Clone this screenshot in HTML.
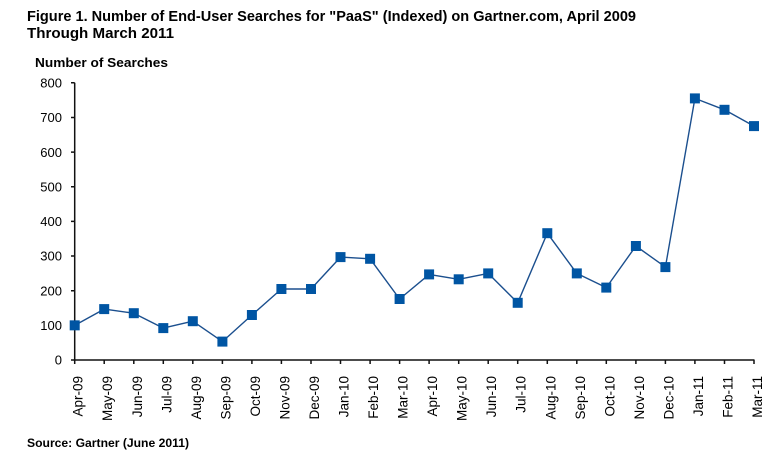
<!DOCTYPE html>
<html><head><meta charset="utf-8"><style>
html,body{margin:0;padding:0;background:#fff;}
svg{display:block;}
text{font-family:"Liberation Sans",Arial,sans-serif;fill:#000;}
.b{font-weight:bold;}
.yl{font-size:13px;text-anchor:end;}
.xl{font-size:13.5px;text-anchor:end;}
</style></head><body>
<svg width="782" height="454" viewBox="0 0 782 454" xmlns="http://www.w3.org/2000/svg">
<rect width="782" height="454" fill="#fff"/>
<text class="b" x="27" y="21" font-size="15" textLength="609" lengthAdjust="spacingAndGlyphs">Figure 1. Number of End-User Searches for "PaaS" (Indexed) on Gartner.com, April 2009</text>
<text class="b" x="27" y="38" font-size="15" textLength="147" lengthAdjust="spacingAndGlyphs">Through March 2011</text>
<text class="b" x="35" y="67" font-size="13" textLength="133" lengthAdjust="spacingAndGlyphs">Number of Searches</text>
<text class="b" x="27" y="447" font-size="12" textLength="162" lengthAdjust="spacingAndGlyphs">Source: Gartner (June 2011)</text>

<!-- y labels -->
<text class="yl" x="62" y="364.7">0</text>
<text class="yl" x="62" y="330">100</text>
<text class="yl" x="62" y="295.4">200</text>
<text class="yl" x="62" y="260.7">300</text>
<text class="yl" x="62" y="226.1">400</text>
<text class="yl" x="62" y="191.4">500</text>
<text class="yl" x="62" y="156.8">600</text>
<text class="yl" x="62" y="122.1">700</text>
<text class="yl" x="62" y="87.5">800</text>

<!-- axes -->
<g stroke="#111" stroke-width="1.5" fill="none">
<line x1="74.7" y1="82.8" x2="74.7" y2="360.7"/>
<line x1="74" y1="360" x2="754.5" y2="360"/>
<path d="M71 360H74.7M71 325.35H74.7M71 290.7H74.7M71 256.05H74.7M71 221.4H74.7M71 186.75H74.7M71 152.1H74.7M71 117.45H74.7M71 82.8H74.7"/>
<path d="M74.7 360V364M104.2 360V364M133.8 360V364M163.3 360V364M192.8 360V364M222.4 360V364M251.9 360V364M281.4 360V364M311 360V364M340.5 360V364M370.1 360V364M399.6 360V364M429.1 360V364M458.7 360V364M488.2 360V364M517.7 360V364M547.3 360V364M576.8 360V364M606.3 360V364M635.9 360V364M665.4 360V364M694.9 360V364M724.5 360V364M754 360V364"/>
</g>

<!-- x labels -->
<g class="xl">
<text class="xl" transform="translate(82.7,376) rotate(-90)">Apr-09</text>
<text class="xl" transform="translate(112.2,376) rotate(-90)">May-09</text>
<text class="xl" transform="translate(141.8,376) rotate(-90)">Jun-09</text>
<text class="xl" transform="translate(171.3,376) rotate(-90)">Jul-09</text>
<text class="xl" transform="translate(200.8,376) rotate(-90)">Aug-09</text>
<text class="xl" transform="translate(230.4,376) rotate(-90)">Sep-09</text>
<text class="xl" transform="translate(259.9,376) rotate(-90)">Oct-09</text>
<text class="xl" transform="translate(289.4,376) rotate(-90)">Nov-09</text>
<text class="xl" transform="translate(319,376) rotate(-90)">Dec-09</text>
<text class="xl" transform="translate(348.5,376) rotate(-90)">Jan-10</text>
<text class="xl" transform="translate(378.1,376) rotate(-90)">Feb-10</text>
<text class="xl" transform="translate(407.6,376) rotate(-90)">Mar-10</text>
<text class="xl" transform="translate(437.1,376) rotate(-90)">Apr-10</text>
<text class="xl" transform="translate(466.7,376) rotate(-90)">May-10</text>
<text class="xl" transform="translate(496.2,376) rotate(-90)">Jun-10</text>
<text class="xl" transform="translate(525.7,376) rotate(-90)">Jul-10</text>
<text class="xl" transform="translate(555.3,376) rotate(-90)">Aug-10</text>
<text class="xl" transform="translate(584.8,376) rotate(-90)">Sep-10</text>
<text class="xl" transform="translate(614.3,376) rotate(-90)">Oct-10</text>
<text class="xl" transform="translate(643.9,376) rotate(-90)">Nov-10</text>
<text class="xl" transform="translate(673.4,376) rotate(-90)">Dec-10</text>
<text class="xl" transform="translate(702.9,376) rotate(-90)">Jan-11</text>
<text class="xl" transform="translate(732.5,376) rotate(-90)">Feb-11</text>
<text class="xl" transform="translate(762,376) rotate(-90)">Mar-11</text>
</g>

<!-- series line -->
<polyline fill="none" stroke="#1b4f8e" stroke-width="1.4" stroke-linejoin="round" points="74.7,325.35 104.2,309.1 133.8,313.2 163.3,328.1 192.8,321.2 222.4,341.6 251.9,315 281.4,289 311,289 340.5,257.1 370.1,258.8 399.6,299 429.1,274.4 458.7,279.3 488.2,273.4 517.7,302.8 547.3,233.2 576.8,273.4 606.3,287.6 635.9,246 665.4,267.1 694.9,98.4 724.5,109.8 754,126.1"/>

<!-- markers -->
<g fill="#0055a3">
<rect x="69.7" y="320.35" width="10" height="10"/>
<rect x="99.2" y="304.1" width="10" height="10"/>
<rect x="128.8" y="308.2" width="10" height="10"/>
<rect x="158.3" y="323.1" width="10" height="10"/>
<rect x="187.8" y="316.2" width="10" height="10"/>
<rect x="217.4" y="336.6" width="10" height="10"/>
<rect x="246.9" y="310" width="10" height="10"/>
<rect x="276.4" y="284" width="10" height="10"/>
<rect x="306" y="284" width="10" height="10"/>
<rect x="335.5" y="252.1" width="10" height="10"/>
<rect x="365.1" y="253.8" width="10" height="10"/>
<rect x="394.6" y="294" width="10" height="10"/>
<rect x="424.1" y="269.4" width="10" height="10"/>
<rect x="453.7" y="274.3" width="10" height="10"/>
<rect x="483.2" y="268.4" width="10" height="10"/>
<rect x="512.7" y="297.8" width="10" height="10"/>
<rect x="542.3" y="228.2" width="10" height="10"/>
<rect x="571.8" y="268.4" width="10" height="10"/>
<rect x="601.3" y="282.6" width="10" height="10"/>
<rect x="630.9" y="241" width="10" height="10"/>
<rect x="660.4" y="262.1" width="10" height="10"/>
<rect x="689.9" y="93.4" width="10" height="10"/>
<rect x="719.5" y="104.8" width="10" height="10"/>
<rect x="749" y="121.1" width="10" height="10"/>
</g>
</svg>
</body></html>
